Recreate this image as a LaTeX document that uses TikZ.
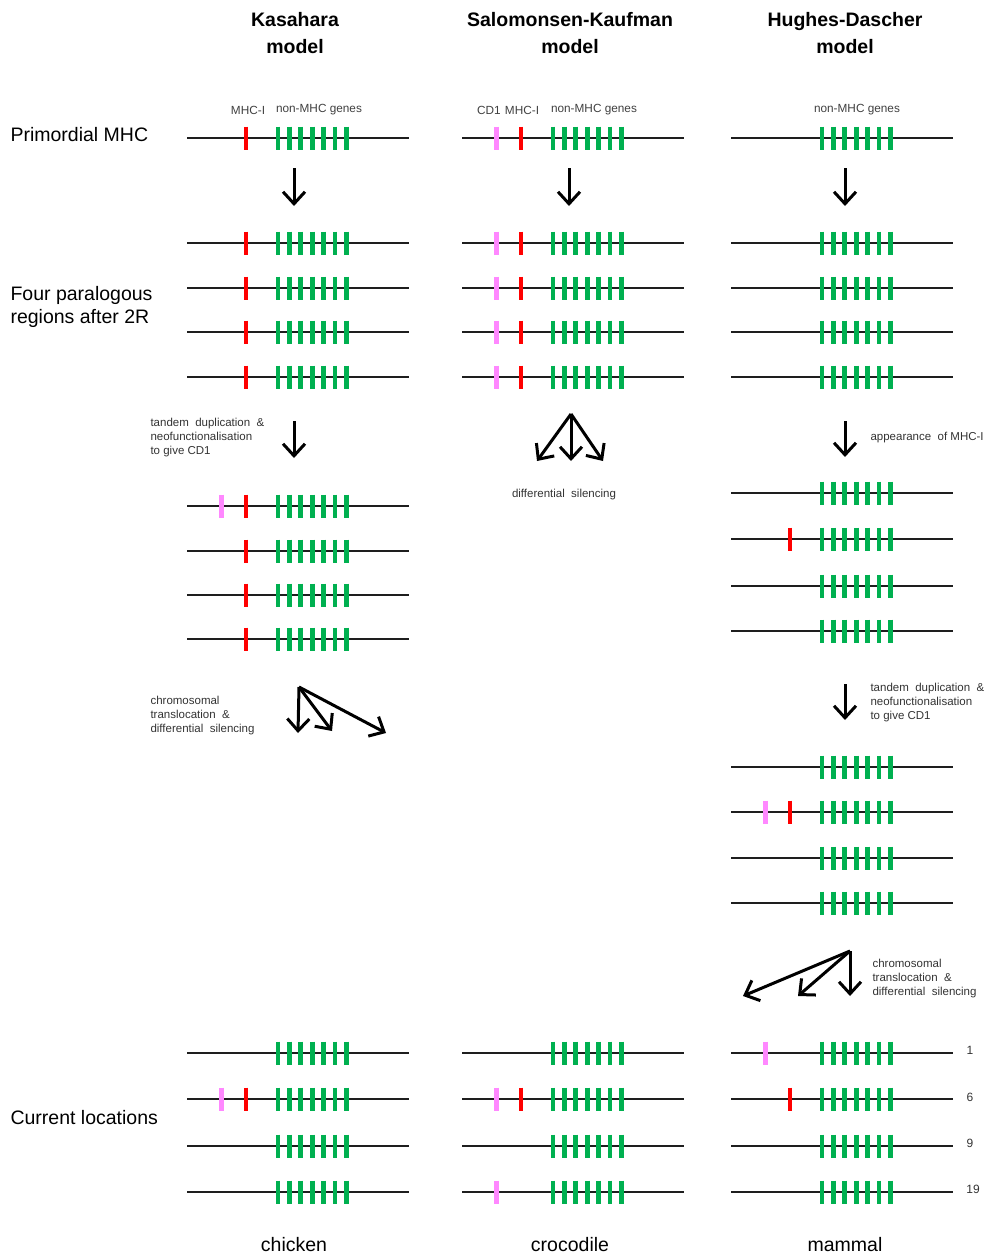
\documentclass[tikz,border=0pt]{standalone}
\usepackage{fontspec}
\setmainfont{Liberation Sans}
\usetikzlibrary{arrows.meta}
\definecolor{genegreen}{RGB}{0,176,80}
\definecolor{genered}{RGB}{255,0,0}
\definecolor{genepink}{RGB}{255,136,255}
\definecolor{chrgrey}{RGB}{30,30,30}
\tikzset{
  chrline/.style={draw=chrgrey, line width=1.5pt},
  genebar/.style={line width=4.8pt, draw=#1},
  bigarrow/.style={line width=3pt, -{Straight Barb[length=12pt,width=22pt]}},
  header/.style={font=\bfseries\fontsize{19.5}{27}\selectfont, align=center},
  sidelabel/.style={font=\fontsize{19.5}{23.5}\selectfont, align=left, anchor=west},
  bottomlabel/.style={font=\fontsize{19.5}{22}\selectfont},
  genelabel/.style={font=\fontsize{11.8}{13}\selectfont, text=black!75},
  note/.style={font=\fontsize{11.5}{14}\selectfont, align=left, anchor=west, text=black!80},
  chrnum/.style={font=\fontsize{12}{13}\selectfont, text=black!80}
}
\newcommand{\chromrow}[2]{%
  \draw[chrline] (#1,#2) -- ({#1+222},#2);
  \foreach \gi in {0,...,6} {\draw[genebar=genegreen] ({#1+91+\gi*11.4},{#2-11.5}) -- ({#1+91+\gi*11.4},{#2+11.5});}
}
\newcommand{\redgene}[2]{\draw[genebar=genered] ({#1+59},{#2-11.5}) -- ({#1+59},{#2+11.5});}
\newcommand{\pinkgene}[2]{\draw[genebar=genepink] ({#1+34.5},{#2-11.5}) -- ({#1+34.5},{#2+11.5});}
\begin{document}
\begin{tikzpicture}[x=1pt,y=-1pt]
\useasboundingbox (0,0) rectangle (987,1255);
% headers
\node[header] (hK) at (295,33) {Kasahara\\model};
\node[header] (hS) at (570,33) {Salomonsen-Kaufman\\model};
\node[header] (hH) at (845,33) {Hughes-Dascher\\model};
% side labels
\node[sidelabel] (lP) at (7,135) {Primordial MHC};
\node[sidelabel] (lF) at (7,307) {Four paralogous\\regions after 2R};
\node[sidelabel] (lC) at (7,1118) {Current locations};
% bottom labels
\node[bottomlabel] (bK) at (294,1245) {chicken};
\node[bottomlabel] (bS) at (570,1245) {crocodile};
\node[bottomlabel] (bH) at (845,1245) {mammal};
% gene labels
\node[genelabel] (gK1) at (248,110) {MHC-I};
\node[genelabel] (gK2) at (319,110) {non-MHC genes};
\node[genelabel] (gS0) at (489,110) {CD1};
\node[genelabel] (gS1) at (522,110) {MHC-I};
\node[genelabel] (gS2) at (594,110) {non-MHC genes};
\node[genelabel] (gH2) at (857,110) {non-MHC genes};
% ---------- Kasahara ----------
\chromrow{187}{138}\redgene{187}{138}
\foreach \yy in {243,288,332,377} {\chromrow{187}{\yy}\redgene{187}{\yy}}
\chromrow{187}{506}\redgene{187}{506}\pinkgene{187}{506}
\foreach \yy in {551,595,639} {\chromrow{187}{\yy}\redgene{187}{\yy}}
\chromrow{187}{1053}
\chromrow{187}{1099}\redgene{187}{1099}\pinkgene{187}{1099}
\chromrow{187}{1146}
\chromrow{187}{1192}
% ---------- Salomonsen-Kaufman ----------
\chromrow{462}{138}\redgene{462}{138}\pinkgene{462}{138}
\foreach \yy in {243,288,332,377} {\chromrow{462}{\yy}\redgene{462}{\yy}\pinkgene{462}{\yy}}
\chromrow{462}{1053}
\chromrow{462}{1099}\redgene{462}{1099}\pinkgene{462}{1099}
\chromrow{462}{1146}
\chromrow{462}{1192}\pinkgene{462}{1192}
% ---------- Hughes-Dascher ----------
\chromrow{731}{138}
\foreach \yy in {243,288,332,377} {\chromrow{731}{\yy}}
\chromrow{731}{493}
\chromrow{731}{539}\redgene{731}{539}
\chromrow{731}{586}
\chromrow{731}{631}
\chromrow{731}{767}
\chromrow{731}{812}\redgene{731}{812}\pinkgene{731}{812}
\chromrow{731}{858}
\chromrow{731}{903}
\chromrow{731}{1053}\pinkgene{731}{1053}
\chromrow{731}{1099}\redgene{731}{1099}
\chromrow{731}{1146}
\chromrow{731}{1192}
% chromosome numbers
\node[chrnum] (n1) at (970,1050) {1};
\node[chrnum] (n6) at (970,1097) {6};
\node[chrnum] (n9) at (970,1143) {9};
\node[chrnum] (n19) at (973,1189) {19};
% ---------- arrows ----------
\coordinate (kA1) at (294,168); \coordinate (kA2) at (294,206);
\coordinate (sA1) at (569,168); \coordinate (sA2) at (569,206);
\coordinate (hA1) at (845,168); \coordinate (hA2) at (845,206);
\draw[bigarrow] (kA1) -- (kA2);
\draw[bigarrow] (sA1) -- (sA2);
\draw[bigarrow] (hA1) -- (hA2);
% Kasahara tandem
\coordinate (kT1) at (294,421); \coordinate (kT2) at (294,458);
\draw[bigarrow] (kT1) -- (kT2);
\node[note] (kTn) at (147,438) {tandem\ \ duplication\ \ \&\\neofunctionalisation\\to\ give\ CD1};
% Salomonsen differential silencing
\coordinate (sD0) at (571,414);
\coordinate (sDa) at (537,461); \coordinate (sDb) at (571,461); \coordinate (sDc) at (603,461);
\draw[bigarrow] (sD0) -- (sDa);
\draw[bigarrow] (sD0) -- (sDb);
\draw[bigarrow] (sD0) -- (sDc);
\node[note, anchor=center] (sDn) at (564,495) {differential\ \ silencing};
% Kasahara chromosomal translocation
\coordinate (kC0) at (299,687);
\coordinate (kCa) at (298,733); \coordinate (kCb) at (332,731); \coordinate (kCc) at (386,733);
\draw[bigarrow] (kC0) -- (kCa);
\draw[bigarrow] (kC0) -- (kCb);
\draw[bigarrow] (kC0) -- (kCc);
\node[note] (kCn) at (147,716) {chromosomal\\translocation\ \ \&\\differential\ \ silencing};
% Hughes appearance of MHC-I
\coordinate (hM1) at (845,421); \coordinate (hM2) at (845,457);
\draw[bigarrow] (hM1) -- (hM2);
\node[note] (hMn) at (867,438) {appearance\ \ of\ MHC-I};
% Hughes tandem
\coordinate (hT1) at (845,684); \coordinate (hT2) at (845,720);
\draw[bigarrow] (hT1) -- (hT2);
\node[note] (hTn) at (867,703) {tandem\ \ duplication\ \ \&\\neofunctionalisation\\to\ give\ CD1};
% Hughes chromosomal translocation
\coordinate (hC0) at (850,951);
\coordinate (hCa) at (743,996); \coordinate (hCb) at (798,996); \coordinate (hCc) at (850,996);
\draw[bigarrow] (hC0) -- (hCa);
\draw[bigarrow] (hC0) -- (hCb);
\draw[bigarrow] (hC0) -- (hCc);
\node[note] (hCn) at (869,979) {chromosomal\\translocation\ \ \&\\differential\ \ silencing};
\end{tikzpicture}
\end{document}
